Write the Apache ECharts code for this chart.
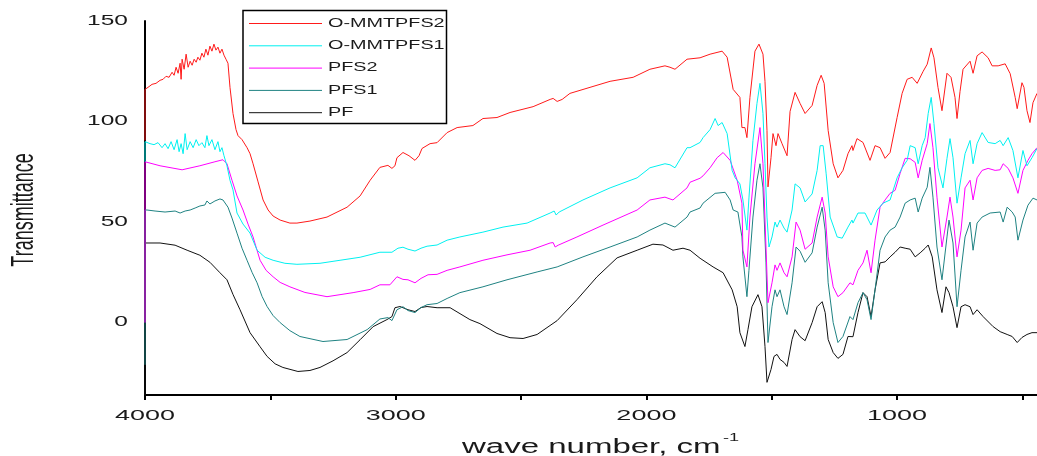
<!DOCTYPE html>
<html><head><meta charset="utf-8">
<script src="https://cdn.jsdelivr.net/npm/echarts@6/dist/echarts.min.js"></script>
<style>html,body{margin:0;padding:0;background:#fff}#c{width:1037px;height:456px}</style>
</head><body><div id="c"></div>
<script>
// ---- data (wavenumber cm-1, transmittance) ----
const seriesNames = ['O-MMTPFS2', 'O-MMTPFS1', 'PFS2', 'PFS1', 'PF'];
const seriesColors = ['#ff1a1a', '#00f0f0', '#ff00ff', '#1f8282', '#111111'];
const xTickValues = [4000, 3500, 3000, 2500, 2000, 1500, 1000, 500];
const xTickLabels = [4000, 3000, 2000, 1000];
const yTickLabels = [150, 100, 50, 0];
const xAxisTitle = 'wave number, cm';
const xAxisTitleSup = '-1';
const yAxisTitle = 'Transmittance';

const oMMTPFS2 = [[4000,90.6],[4000,116],[3988,117],[3972,118.5],[3956,119],[3940,120.5],[3928,121],[3916,122.5],[3904,122],[3892,124.5],[3884,123],[3876,127],[3868,124],[3860,129],[3856,121],[3852,131],[3844,126],[3836,133.5],[3828,127],[3820,130],[3812,128],[3804,131],[3796,129.5],[3789,132],[3781,130.5],[3773,134],[3765,132],[3757,136],[3749,133],[3741,137.5],[3733,135],[3725,138.5],[3717,135.5],[3709,137],[3701,134],[3693,136],[3685,133],[3677,131],[3669,129],[3661,117],[3649,104],[3637,96],[3629,93],[3613,91],[3593,87],[3581,84],[3569,79],[3549,70],[3529,61],[3509,56],[3489,53],[3461,51],[3422,49.5],[3394,49.5],[3342,50.5],[3274,52.5],[3194,57.4],[3142,63],[3102,70.8],[3063,77.2],[3031,78.2],[3015,76.7],[3003,78],[2995,82],[2971,84.6],[2947,83],[2923,80.7],[2907,83],[2895,86.6],[2863,89],[2835,89.5],[2795,94.5],[2755,97],[2692,98],[2652,101.5],[2596,102],[2544,104.5],[2452,107.4],[2384,111],[2372,111.5],[2356,110],[2336,111],[2305,114],[2225,117],[2145,120],[2053,122],[1986,126],[1926,127.7],[1906,127],[1886,126],[1838,131],[1786,131.7],[1746,133.5],[1698,135],[1678,132],[1654,116],[1627,112],[1619,97],[1607,97],[1599,92],[1587,112],[1567,135],[1551,138.5],[1535,133.5],[1527,120],[1519,95.5],[1515,67.5],[1503,82],[1495,94],[1483,88],[1475,94],[1459,89],[1439,83],[1427,105],[1407,114.5],[1387,109],[1367,104],[1339,108],[1319,118],[1303,123],[1291,119],[1275,95.5],[1255,79],[1236,72],[1216,75.7],[1196,84],[1180,88],[1176,85.6],[1160,91.5],[1136,89.6],[1108,80.7],[1088,88],[1068,87],[1048,81.7],[1028,84.6],[1000,102],[980,114],[960,121],[940,122],[920,119],[896,125],[880,128.5],[864,136.6],[853,131.7],[837,117],[821,105.4],[801,124],[785,122],[769,112],[761,101.5],[749,115],[737,126],[709,130],[697,124],[681,132.7],[661,134.6],[637,131.7],[621,127.7],[597,127.7],[569,128.7],[549,123.8],[529,112],[521,106.4],[502,119.3],[494,117],[482,105.4],[470,99.5],[458,109.4],[442,114]];

const oMMTPFS1 = [[4000,80],[4000,90],[3996,90.5],[3980,89],[3964,88.5],[3948,89.5],[3932,87],[3920,89],[3908,86.5],[3896,90],[3884,86],[3872,91],[3864,85],[3856,89],[3848,84],[3840,94],[3832,86],[3820,90],[3808,87],[3796,91],[3785,88],[3773,89.5],[3761,87],[3753,93],[3745,88],[3733,91],[3721,86],[3709,90],[3701,85],[3693,87],[3685,83],[3673,78],[3661,70.8],[3649,66],[3633,54.5],[3609,49],[3581,44.5],[3553,36],[3521,32.5],[3489,31],[3442,29.5],[3394,29],[3302,29.5],[3222,31],[3142,32.5],[3063,35],[3015,35],[2991,37],[2971,37.5],[2951,36.5],[2923,35.6],[2899,37],[2875,38],[2835,38.6],[2795,41],[2744,42.6],[2652,45],[2572,47.5],[2476,49.5],[2384,54.5],[2368,55.5],[2360,53.5],[2348,55],[2253,61],[2145,67],[2037,72],[1986,77],[1926,79],[1906,78.5],[1886,77],[1838,87],[1826,87],[1786,89.6],[1774,92],[1746,96],[1726,101.5],[1714,98],[1698,99.5],[1678,94],[1658,75.7],[1646,72],[1627,69],[1615,61],[1599,46],[1591,62],[1575,90.6],[1559,109],[1547,119],[1535,104],[1527,79],[1519,52.5],[1511,37.6],[1499,42.6],[1487,50],[1479,47.5],[1467,51],[1451,47],[1439,45],[1419,56],[1407,69],[1387,67],[1367,60],[1339,64],[1319,75.7],[1307,88],[1295,88],[1283,74],[1267,52.5],[1239,42.6],[1219,42],[1196,47.5],[1180,51],[1176,49.5],[1156,54.5],[1128,54.5],[1104,48.5],[1080,56],[1056,59.4],[1028,61],[1000,72],[980,77],[960,80.7],[948,88],[928,87],[916,79],[900,88],[888,92],[876,104],[864,112],[853,99],[837,77],[817,67],[801,81.7],[789,91.5],[777,82],[761,59.4],[745,72],[729,84],[709,90.6],[697,79],[681,89],[661,94.5],[637,89.6],[609,89],[589,90.6],[577,88],[557,92],[538,85.6],[518,72],[498,85.6],[482,78],[462,82],[442,86.6]];

const pfs2 = [[4000,0],[4000,80],[3996,79.7],[3940,78],[3852,76],[3781,78],[3721,80],[3689,81],[3673,79],[3653,70.8],[3633,63],[3609,56],[3589,49],[3569,42.6],[3541,31],[3517,26],[3489,22.8],[3461,20],[3422,17.8],[3362,15],[3274,12.9],[3170,14.9],[3102,16.5],[3063,18.8],[3023,18.8],[2995,22.8],[2971,21.5],[2951,21.3],[2923,19.8],[2899,22],[2871,23.8],[2835,24],[2795,26],[2744,27.7],[2652,31],[2556,33.7],[2464,36],[2384,39.6],[2372,39.8],[2364,37.6],[2352,38.5],[2277,42.6],[2173,48.5],[2037,56],[1986,61],[1926,62.4],[1906,61.5],[1894,61],[1838,67],[1826,69.8],[1786,71.8],[1774,73],[1746,77],[1718,82],[1694,84.6],[1666,80.7],[1638,70.8],[1619,59.4],[1615,36],[1599,27.7],[1587,52.5],[1567,79],[1547,97],[1535,79],[1523,37.6],[1515,9.9],[1499,19.8],[1487,28.7],[1479,26],[1467,29.7],[1451,24.8],[1439,22.8],[1419,32.7],[1403,50],[1387,46],[1367,36.5],[1339,39.6],[1319,52.5],[1299,62.4],[1287,54.5],[1275,32.7],[1255,17.8],[1236,12.9],[1216,14.9],[1188,19.8],[1176,18.8],[1156,26],[1136,29.7],[1120,36],[1104,24.8],[1088,41],[1068,57.4],[1048,61],[1028,64.3],[1008,65.8],[988,74.2],[968,81.7],[948,81.5],[928,79.7],[916,72],[900,80.7],[880,89],[869,99],[857,87],[841,62.4],[821,37.6],[801,52.5],[789,62.4],[777,52.5],[761,32.7],[745,46],[729,67],[709,70.8],[697,61],[681,72],[661,75.7],[637,76.7],[609,75.7],[589,76],[577,79],[557,76.7],[538,72],[518,64.3],[498,75.7],[478,80.7],[462,84],[442,87]];

const pfs1 = [[4000,-21],[4000,56],[3992,56],[3960,55.5],[3920,55],[3880,55.5],[3860,54.5],[3840,55.5],[3820,56],[3800,57],[3781,58],[3761,58.5],[3753,60.5],[3741,59],[3721,60.5],[3701,61.5],[3689,61],[3669,57.4],[3653,52],[3633,44.5],[3613,37],[3593,31],[3573,25],[3553,19.8],[3533,13],[3513,8],[3489,3.5],[3461,0],[3422,-4],[3382,-6.9],[3290,-9.4],[3194,-8.4],[3114,-3.5],[3063,1.8],[3031,2.5],[3015,1],[2995,6.4],[2971,7.9],[2951,6],[2923,5],[2899,7.5],[2875,8.9],[2835,9.5],[2795,12],[2744,14.9],[2652,17.8],[2556,21.3],[2436,25.2],[2356,27.7],[2253,32.7],[2145,37.6],[2037,42.6],[1986,46],[1926,49.5],[1906,48.5],[1886,47.5],[1838,52.5],[1826,55],[1786,57],[1774,59.4],[1726,64.3],[1686,64.8],[1666,61],[1654,56],[1635,55],[1619,42.6],[1615,32.7],[1599,12.9],[1591,26],[1575,52.5],[1559,70.8],[1547,79],[1535,67],[1523,29.7],[1515,-9.9],[1499,7.9],[1487,16.3],[1479,12.9],[1467,16.3],[1451,7.9],[1439,4],[1419,19.8],[1403,37.6],[1387,35.5],[1367,30],[1339,34.7],[1319,47.5],[1299,57.4],[1287,46],[1275,19.8],[1255,0],[1236,-9.9],[1216,-6.9],[1188,3],[1176,1.5],[1156,9.9],[1136,14.9],[1120,11.4],[1104,1.5],[1088,16.3],[1068,36],[1048,42.6],[1028,46],[1008,47.5],[988,52.5],[968,59.4],[948,61],[928,61.9],[916,55],[900,61.9],[880,67.3],[869,77.2],[857,62.4],[841,37.6],[821,21.3],[801,42.6],[793,51],[777,39.6],[761,7.9],[745,26],[729,42.6],[709,50],[697,36],[681,49.5],[661,52.5],[629,54.5],[589,55],[577,50],[561,57.4],[541,55],[529,52.5],[518,41],[498,51],[478,58.4],[458,61.9],[442,61]];

const pf = [[4000,-36],[4000,39.6],[3992,39.6],[3940,39.6],[3880,38.5],[3832,36],[3781,33.5],[3741,30],[3701,24.8],[3673,21.3],[3649,14],[3621,6.4],[3581,-5],[3541,-12],[3513,-16.8],[3481,-20.5],[3450,-22.3],[3390,-24.3],[3342,-23.8],[3302,-22.3],[3250,-19],[3194,-14.9],[3142,-8.5],[3090,-2],[3035,1.5],[3015,3],[3003,7.4],[2983,8],[2951,6.4],[2923,5.5],[2899,7.5],[2875,8],[2835,7.4],[2783,7.4],[2704,1.5],[2664,-0.5],[2596,-5.4],[2544,-7.5],[2492,-7.9],[2436,-5.9],[2356,1],[2277,11.4],[2197,22.8],[2117,32.2],[2037,36],[1974,39],[1934,38.6],[1894,36],[1854,37],[1826,36],[1786,32],[1734,27.7],[1694,24.8],[1658,16.3],[1638,7.9],[1627,-5],[1607,-11.9],[1595,-3.5],[1579,7.9],[1555,13.9],[1539,7.9],[1527,-11.9],[1519,-29.7],[1503,-23.3],[1491,-16.8],[1479,-15.8],[1467,-18.3],[1451,-19.8],[1439,-21.8],[1419,-8.4],[1407,-3.5],[1387,-7],[1367,-9],[1339,0],[1319,7.9],[1299,10.4],[1287,5],[1275,-8.4],[1255,-14.9],[1236,-17.8],[1216,-15.8],[1196,-6.9],[1176,-7],[1156,5],[1136,14.9],[1120,12.9],[1104,3],[1088,16.3],[1068,29.7],[1048,30.2],[1028,32.7],[1008,35],[988,37.6],[968,37],[948,36.5],[928,32.7],[908,34.7],[888,37],[876,38.6],[860,32.7],[841,16.3],[821,5],[805,17.8],[793,14.9],[777,7.9],[761,-2.5],[745,7.9],[729,8.9],[709,7.9],[697,4],[681,6.4],[657,3],[617,-2],[589,-4.5],[561,-5.9],[541,-6.9],[521,-9.9],[502,-7.4],[482,-5.9],[462,-5],[442,-5]];

const seriesData = [oMMTPFS2, oMMTPFS1, pfs2, pfs1, pf];

// ---- chart ----
const FONT = '"Liberation Sans", Arial, Helvetica, sans-serif';
const chart = echarts.init(document.getElementById('c'), null, {renderer: 'canvas'});
const order = [4, 3, 2, 1, 0]; // draw PF first, O-MMTPFS2 on top
chart.setOption({
  animation: false,
  backgroundColor: '#fff',
  grid: {left: 145, right: 0, top: 21, bottom: 61, containLabel: false},
  xAxis: {
    type: 'value', inverse: true, min: 442, max: 4000,
    axisLine: {show: true, onZero: false, lineStyle: {color: '#000', width: 2}},
    axisTick: {show: true, inside: false, length: 5, customValues: xTickValues, lineStyle: {color: '#000', width: 2}},
    axisLabel: {show: false},
    splitLine: {show: false}
  },
  yAxis: {
    type: 'value', min: -36, max: 150,
    axisLine: {show: true, onZero: false, lineStyle: {color: '#000', width: 2}},
    axisTick: {show: false},
    axisLabel: {show: false},
    splitLine: {show: false}
  },
  series: order.map(i => ({
    name: seriesNames[i], type: 'line', data: seriesData[i],
    showSymbol: false, symbol: 'none', smooth: false,
    lineStyle: {color: seriesColors[i], width: 1},
    itemStyle: {color: seriesColors[i]},
    z: 3 + (4 - i)
  }))
});

// text elements (stretched horizontally like the reference)
const g = [];
const textColor = '#1a1a1a';
xTickLabels.forEach(v => {
  const px = chart.convertToPixel({xAxisIndex: 0}, v);
  g.push({type: 'text', x: px, y: 416, scaleX: 1.8, silent: true,
    style: {text: String(v), font: '15px ' + FONT, fill: textColor, textAlign: 'center', textVerticalAlign: 'middle'}});
});
yTickLabels.forEach(v => {
  const py = chart.convertToPixel({yAxisIndex: 0}, v);
  g.push({type: 'text', x: 128, y: py, scaleX: 1.75, silent: true,
    style: {text: String(v), font: '14px ' + FONT, fill: textColor, textAlign: 'right', textVerticalAlign: 'middle'}});
});
g.push({type: 'text', x: 462, y: 447, scaleX: 1.65, silent: true,
  style: {text: xAxisTitle, font: '20px ' + FONT, fill: textColor, textAlign: 'left', textVerticalAlign: 'middle'}});
g.push({type: 'text', x: 723, y: 438, scaleX: 1.65, silent: true,
  style: {text: xAxisTitleSup, font: '11px ' + FONT, fill: textColor, textAlign: 'left', textVerticalAlign: 'middle'}});
g.push({type: 'text', x: 25, y: 210, rotation: Math.PI / 2, scaleY: 1.7, silent: true,
  style: {text: yAxisTitle, font: '18px ' + FONT, fill: textColor, textAlign: 'center', textVerticalAlign: 'middle'}});

// legend box
const legendChildren = [{type: 'rect', shape: {x: 243, y: 10.5, width: 203.5, height: 113}, style: {fill: '#fff', stroke: '#000', lineWidth: 1.5}}];
seriesNames.forEach((n, i) => {
  const y = 23.5 + i * 22.3;
  legendChildren.push({type: 'line', shape: {x1: 249, y1: y, x2: 322, y2: y}, style: {stroke: seriesColors[i], lineWidth: 1}});
  legendChildren.push({type: 'text', x: 328, y: y, scaleX: 1.65,
    style: {text: n, font: '12px ' + FONT, fill: textColor, textAlign: 'left', textVerticalAlign: 'middle'}});
});
g.push({type: 'group', z: 100, silent: true, children: legendChildren});

chart.setOption({graphic: {elements: g}});
</script></body></html>
